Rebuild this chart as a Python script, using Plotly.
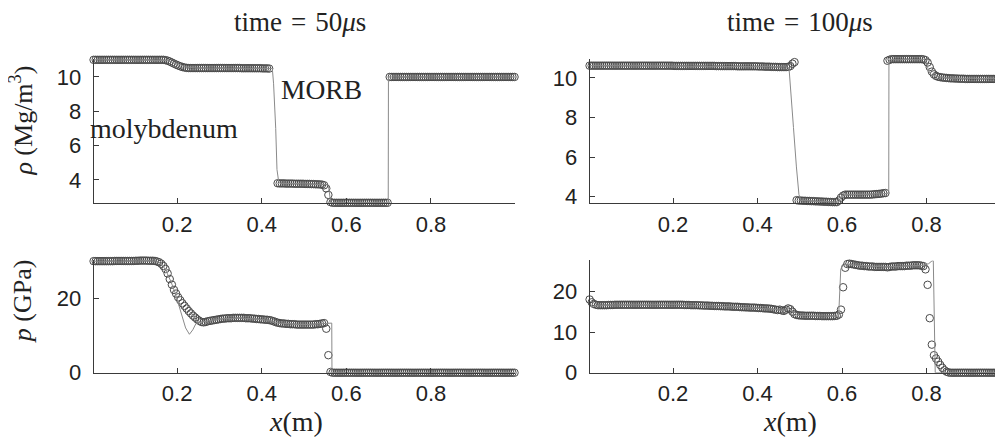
import numpy as np
import plotly.graph_objects as go

# ---------------- data ----------------
# cell centres of the 200-cell grid
x_cells = np.round(np.linspace(0.0025, 0.9975, 200), 4)

# density, t = 50 us (numerical, markers); None = no marker drawn at the interface cells
rho_50 = [
    11.0, 11.0, 11.0, 11.0, 11.0, 11.0, 11.0, 11.0, 11.0, 11.0, 11.0, 11.0, 11.0, 11.0, 11.0, 11.0, 11.0, 11.0, 11.0, 11.0,
    11.0, 11.0, 11.0, 11.0, 11.0, 11.0, 11.0, 11.0, 11.0, 11.0, 11.0, 11.0, 11.0, 11.0, 10.98, 10.95, 10.9, 10.84, 10.78, 10.72,
    10.67, 10.62, 10.58, 10.55, 10.53, 10.52, 10.52, 10.52, 10.52, 10.52, 10.52, 10.52, 10.52, 10.52, 10.52, 10.52, 10.52, 10.52, 10.52, 10.52,
    10.52, 10.52, 10.52, 10.52, 10.52, 10.52, 10.52, 10.52, 10.52, 10.52, 10.51, 10.51, 10.51, 10.51, 10.51, 10.51, 10.51, 10.51, 10.51, 10.51,
    10.5, 10.5, 10.5, 10.49, None, None, None, 3.8, 3.79, 3.79, 3.79, 3.78, 3.78, 3.78, 3.78, 3.77, 3.77, 3.77, 3.77, 3.77,
    3.76, 3.76, 3.76, 3.75, 3.75, 3.74, 3.74, 3.73, 3.72, 3.68, 3.5, 3.12, 2.7, 2.66, 2.66, 2.66, 2.66, 2.66, 2.66, 2.66,
    2.66, 2.66, 2.66, 2.66, 2.66, 2.66, 2.66, 2.66, 2.66, 2.66, 2.66, 2.66, 2.66, 2.66, 2.66, 2.66, 2.66, 2.66, 2.66, 2.66,
    10.0, 10.0, 10.0, 10.0, 10.0, 10.0, 10.0, 10.0, 10.0, 10.0, 10.0, 10.0, 10.0, 10.0, 10.0, 10.0, 10.0, 10.0, 10.0, 10.0,
    10.0, 10.0, 10.0, 10.0, 10.0, 10.0, 10.0, 10.0, 10.0, 10.0, 10.0, 10.0, 10.0, 10.0, 10.0, 10.0, 10.0, 10.0, 10.0, 10.0,
    10.0, 10.0, 10.0, 10.0, 10.0, 10.0, 10.0, 10.0, 10.0, 10.0, 10.0, 10.0, 10.0, 10.0, 10.0, 10.0, 10.0, 10.0, 10.0, 10.0,
]

# pressure, t = 50 us (numerical, markers)
p_50 = [
    29.9, 29.9, 29.9, 29.9, 29.9, 29.9, 29.9, 29.9, 29.9, 29.9, 29.95, 29.95, 29.95, 29.95, 29.95, 29.95, 29.95, 29.95, 29.95, 29.95,
    30.0, 30.0, 30.05, 30.05, 30.05, 30.05, 30.0, 30.0, 30.0, 29.95, 29.8, 29.6, 29.2, 28.6, 27.8, 26.6, 25.1, 23.6, 22.2, 21.2,
    20.2, 19.4, 18.6, 17.9, 17.2, 16.5, 15.9, 15.3, 14.8, 14.3, 13.9, 13.6, 13.5, 13.6, 13.8, 13.9, 14.0, 14.1, 14.2, 14.3,
    14.4, 14.5, 14.5, 14.6, 14.6, 14.6, 14.7, 14.7, 14.7, 14.7, 14.7, 14.7, 14.6, 14.6, 14.6, 14.5, 14.5, 14.4, 14.4, 14.3,
    14.3, 14.2, 14.2, 14.1, 14.0, 13.8, 13.6, 13.4, 13.3, 13.2, 13.2, 13.1, 13.1, 13.0, 13.0, 13.0, 12.9, 12.9, 12.9, 12.9,
    12.9, 12.9, 12.9, 12.9, 12.9, 13.0, 13.0, 13.1, 13.2, 13.3, 11.8, 4.7, 0.2, 0.0, 0.0, 0.0, 0.0, 0.0, 0.0, 0.0,
    0.0, 0.0, 0.0, 0.0, 0.0, 0.0, 0.0, 0.0, 0.0, 0.0, 0.0, 0.0, 0.0, 0.0, 0.0, 0.0, 0.0, 0.0, 0.0, 0.0,
    0.0, 0.0, 0.0, 0.0, 0.0, 0.0, 0.0, 0.0, 0.0, 0.0, 0.0, 0.0, 0.0, 0.0, 0.0, 0.0, 0.0, 0.0, 0.0, 0.0,
    0.0, 0.0, 0.0, 0.0, 0.0, 0.0, 0.0, 0.0, 0.0, 0.0, 0.0, 0.0, 0.0, 0.0, 0.0, 0.0, 0.0, 0.0, 0.0, 0.0,
    0.0, 0.0, 0.0, 0.0, 0.0, 0.0, 0.0, 0.0, 0.0, 0.0, 0.0, 0.0, 0.0, 0.0, 0.0, 0.0, 0.0, 0.0, 0.0, 0.0,
]

# density, t = 100 us (numerical, markers)
rho_100 = [
    10.62, 10.62, 10.62, 10.62, 10.62, 10.62, 10.62, 10.62, 10.62, 10.62, 10.62, 10.62, 10.62, 10.62, 10.62, 10.62, 10.62, 10.62, 10.62, 10.62,
    10.62, 10.62, 10.62, 10.62, 10.62, 10.62, 10.62, 10.62, 10.62, 10.62, 10.62, 10.62, 10.62, 10.62, 10.62, 10.62, 10.62, 10.62, 10.62, 10.62,
    10.61, 10.61, 10.61, 10.61, 10.61, 10.61, 10.61, 10.61, 10.61, 10.61, 10.61, 10.61, 10.61, 10.61, 10.61, 10.61, 10.61, 10.61, 10.61, 10.61,
    10.6, 10.6, 10.6, 10.6, 10.6, 10.6, 10.6, 10.6, 10.6, 10.6, 10.59, 10.59, 10.59, 10.59, 10.59, 10.59, 10.59, 10.59, 10.59, 10.59,
    10.58, 10.58, 10.58, 10.57, 10.57, 10.57, 10.56, 10.56, 10.56, 10.55, 10.55, 10.55, 10.55, 10.55, 10.56, 10.6, 10.72, 10.8, 3.82, 3.8,
    3.8, 3.79, 3.79, 3.78, 3.78, 3.77, 3.77, 3.76, 3.76, 3.75, 3.75, 3.74, 3.74, 3.73, 3.73, 3.72, 3.72, 3.72, 3.8, 3.95,
    4.05, 4.1, 4.1, 4.1, 4.1, 4.1, 4.1, 4.1, 4.1, 4.1, 4.1, 4.1, 4.1, 4.1, 4.11, 4.12, 4.13, 4.14, 4.15, 4.17,
    4.18, 10.87, 10.92, 10.95, 10.95, 10.95, 10.95, 10.95, 10.95, 10.95, 10.95, 10.95, 10.95, 10.95, 10.95, 10.95, 10.95, 10.95, 10.94, 10.9,
    10.78, 10.55, 10.32, 10.18, 10.1, 10.06, 10.04, 10.02, 10.01, 10.0, 9.99, 9.98, 9.98, 9.97, 9.97, 9.96, 9.96, 9.96, 9.95, 9.95,
    9.95, 9.95, 9.95, 9.95, 9.95, 9.95, 9.95, 9.95, 9.95, 9.95, 9.95, 9.95, 9.95, 9.95, 9.95, 9.95, 9.95, 9.95, 9.95, 9.95,
]

# pressure, t = 100 us (numerical, markers)
p_100 = [
    18.0, 17.3, 16.9, 16.7, 16.6, 16.6, 16.6, 16.6, 16.6, 16.65, 16.65, 16.65, 16.7, 16.7, 16.7, 16.7, 16.7, 16.7, 16.7, 16.7,
    16.7, 16.7, 16.7, 16.7, 16.7, 16.7, 16.7, 16.7, 16.7, 16.7, 16.7, 16.7, 16.7, 16.7, 16.7, 16.7, 16.7, 16.7, 16.7, 16.7,
    16.7, 16.7, 16.7, 16.7, 16.7, 16.65, 16.65, 16.65, 16.6, 16.6, 16.6, 16.6, 16.55, 16.55, 16.5, 16.5, 16.5, 16.45, 16.45, 16.4,
    16.4, 16.4, 16.35, 16.35, 16.3, 16.3, 16.3, 16.25, 16.2, 16.2, 16.2, 16.15, 16.1, 16.1, 16.05, 16.05, 16.0, 16.0, 16.0, 15.95,
    15.9, 15.9, 15.85, 15.8, 15.8, 15.75, 15.7, 15.6, 15.5, 15.4, 15.5, 15.3, 15.2, 15.5, 15.8, 15.6, 15.0, 14.4, 14.2, 14.1,
    14.05, 14.05, 14.0, 14.0, 14.0, 14.0, 14.0, 13.95, 13.95, 13.95, 13.9, 13.9, 13.9, 13.9, 13.9, 13.9, 13.95, 14.0, 14.3, 15.5,
    21.0, 25.8, 26.7, 26.8, 26.7, 26.6, 26.5, 26.4, 26.3, 26.3, 26.2, 26.2, 26.1, 26.1, 26.1, 26.0, 26.0, 26.0, 26.0, 26.0,
    26.0, 25.9, 26.0, 26.1, 26.1, 26.1, 26.2, 26.2, 26.2, 26.2, 26.3, 26.3, 26.3, 26.4, 26.4, 26.4, 26.4, 26.3, 26.2, 25.4,
    21.6, 13.4, 6.9, 4.3, 3.5, 2.7, 1.9, 1.2, 0.6, 0.25, 0.05, 0.0, 0.0, 0.0, 0.0, 0.0, 0.0, 0.0, 0.0, 0.0,
    0.0, 0.0, 0.0, 0.0, 0.0, 0.0, 0.0, 0.0, 0.0, 0.0, 0.0, 0.0, 0.0, 0.0, 0.0, 0.0, 0.0, 0.0, 0.0, 0.0,
]

# reference (exact) solutions, drawn as thin lines
rho50_line_x = [0.0025, 0.165, 0.175, 0.19, 0.205, 0.22, 0.235, 0.25, 0.425, 0.428, 0.433, 0.436, 0.44, 0.445,
                0.555, 0.558, 0.563, 0.699, 0.6995, 0.9975]
rho50_line_y = [11.0, 11.0, 10.96, 10.85, 10.72, 10.6, 10.54, 10.52, 10.5, 9.6, 7.0, 4.6, 3.9, 3.8,
                3.72, 3.6, 2.66, 2.66, 10.0, 10.0]

p50_line_x = [0.0025, 0.1, 0.15, 0.155, 0.165, 0.175, 0.185, 0.195, 0.202, 0.21, 0.22, 0.229, 0.237, 0.245, 0.255,
              0.3, 0.35, 0.4, 0.42, 0.44, 0.5, 0.55, 0.5655, 0.566, 0.9975]
p50_line_y = [29.9, 30.0, 29.95, 29.8, 29.0, 27.0, 24.5, 21.5, 18.8, 15.5, 12.0, 10.3, 11.5, 13.3, 13.5,
              14.4, 14.7, 14.3, 14.0, 13.3, 12.9, 13.2, 13.3, 0.0, 0.0]

rho100_line_x = [0.0025, 0.47, 0.4745, 0.478, 0.485, 0.492, 0.498, 0.503, 0.59, 0.593, 0.598, 0.604,
                 0.705, 0.7105, 0.711, 0.716, 0.795, 0.8, 0.805, 0.812, 0.85, 0.9975]
rho100_line_y = [10.62, 10.56, 10.5, 9.6, 7.5, 5.5, 4.1, 3.8, 3.72, 3.76, 4.0, 4.1,
                 4.15, 4.2, 10.85, 10.95, 10.95, 10.75, 10.35, 10.12, 10.0, 9.95]

p100_line_x = [0.0025, 0.008, 0.02, 0.1, 0.2, 0.3, 0.4, 0.45, 0.462, 0.472, 0.485, 0.495, 0.59, 0.592,
               0.597, 0.605, 0.7, 0.79, 0.805, 0.813, 0.816, 0.8205, 0.9975]
p100_line_y = [16.3, 16.3, 16.6, 16.7, 16.7, 16.4, 15.9, 15.5, 15.2, 15.8, 15.0, 14.1, 13.9, 14.0,
               25.5, 26.6, 26.0, 26.4, 26.8, 27.5, 27.5, 0.0, 0.0]

x_tick_vals = [0.2, 0.4, 0.6, 0.8]
x_tick_text = ["0.2", "0.4", "0.6", "0.8"]
rho50_ticks = [4, 6, 8, 10]
p50_ticks = [0, 20]
rho100_ticks = [4, 6, 8, 10]
p100_ticks = [0, 10, 20]

titles = ["time\u2004=\u200450<i>μ</i>s", "time\u2004=\u2004100<i>μ</i>s"]
y_titles = ["<i>ρ</i> (Mg/m<sup>3</sup>)", "<i>p</i> (GPa)"]
x_title = "<i>x</i>(m)"
material_labels = ["molybdenum", "MORB"]

# ---------------- figure ----------------
W, H = 1003, 445
MARK = "#4a4a4a"
LINE = "#8a8a8a"
AX = "#3a3a3a"
SERIF = "Liberation Serif, Times New Roman, serif"
SANS = "Liberation Sans, Arial, sans-serif"

panels = [
    (rho_50, rho50_line_x, rho50_line_y, "x", "y"),
    (rho_100, rho100_line_x, rho100_line_y, "x2", "y2"),
    (p_50, p50_line_x, p50_line_y, "x3", "y3"),
    (p_100, p100_line_x, p100_line_y, "x4", "y4"),
]

fig = go.Figure()
for vals, lx, ly, xa, ya in panels:
    fig.add_trace(go.Scatter(
        x=x_cells, y=vals, mode="markers", xaxis=xa, yaxis=ya,
        marker=dict(symbol="circle-open", size=7.5, color=MARK, line=dict(width=1, color=MARK)),
        cliponaxis=False, showlegend=False, hoverinfo="skip"))
    fig.add_trace(go.Scatter(
        x=lx, y=ly, mode="lines", xaxis=xa, yaxis=ya,
        line=dict(color=LINE, width=1), cliponaxis=False, showlegend=False, hoverinfo="skip"))


def px_x(p):
    return p / W


def px_y(p):
    return 1 - p / H


left_dom = [px_x(85.6), px_x(506.5)]
right_dom = [px_x(581.6), px_x(1002.0)]
top_dom = [px_y(201), px_y(52.5)]
bot_dom = [px_y(375.7), px_y(260)]

xcommon = dict(range=[0.0025, 0.9975], tickvals=x_tick_vals, ticktext=x_tick_text,
               showline=True, linecolor=AX, linewidth=1, ticks="inside", ticklen=5,
               tickcolor=AX, tickwidth=1, showgrid=False, zeroline=False,
               tickfont=dict(family=SANS, size=22, color="#222222"), ticklabelstandoff=1)
ycommon = dict(showline=True, linecolor=AX, linewidth=1, ticks="inside", ticklen=5,
               tickcolor=AX, tickwidth=1, showgrid=False, zeroline=False,
               tickfont=dict(family=SANS, size=22, color="#222222"), ticklabelstandoff=7)

fig.update_layout(
    width=W, height=H, autosize=False,
    margin=dict(l=0, r=0, t=0, b=0, pad=0),
    paper_bgcolor="white", plot_bgcolor="white",
    xaxis=dict(domain=left_dom, anchor="y", **xcommon),
    yaxis=dict(domain=top_dom, anchor="x", range=[2.64, 11.05], tickvals=rho50_ticks, **ycommon),
    xaxis2=dict(domain=right_dom, anchor="y2", **xcommon),
    yaxis2=dict(domain=top_dom, anchor="x2", range=[3.67, 10.96], tickvals=rho100_ticks, **ycommon),
    xaxis3=dict(domain=left_dom, anchor="y3", **xcommon),
    yaxis3=dict(domain=bot_dom, anchor="x3", range=[0, 30.1], tickvals=p50_ticks, **ycommon),
    xaxis4=dict(domain=right_dom, anchor="y4", **xcommon),
    yaxis4=dict(domain=bot_dom, anchor="x4", range=[0, 27.6], tickvals=p100_ticks, **ycommon),
)

ann = []
def add_text(text, x, y, size, angle=0, xanchor="center", yanchor="middle"):
    ann.append(dict(text=text, x=px_x(x), y=px_y(y), xref="paper", yref="paper",
                    showarrow=False, xanchor=xanchor, yanchor=yanchor, textangle=angle,
                    borderpad=0,
                    font=dict(family=SERIF, size=size, color="#222222")))

add_text(titles[0], 291.5, 14, 27)
add_text(titles[1], 791.5, 14, 27)
add_text(y_titles[0], 14, 116, 26, angle=-90)
add_text(y_titles[1], 14, 302, 26, angle=-90)
add_text(x_title, 288, 426, 28)
add_text(x_title, 782, 426, 28)
add_text(material_labels[0], 81, 124, 28, xanchor="left")
add_text(material_labels[1], 272, 84, 27.5, xanchor="left")
fig.update_layout(annotations=ann)

fig.write_html("out.html")
